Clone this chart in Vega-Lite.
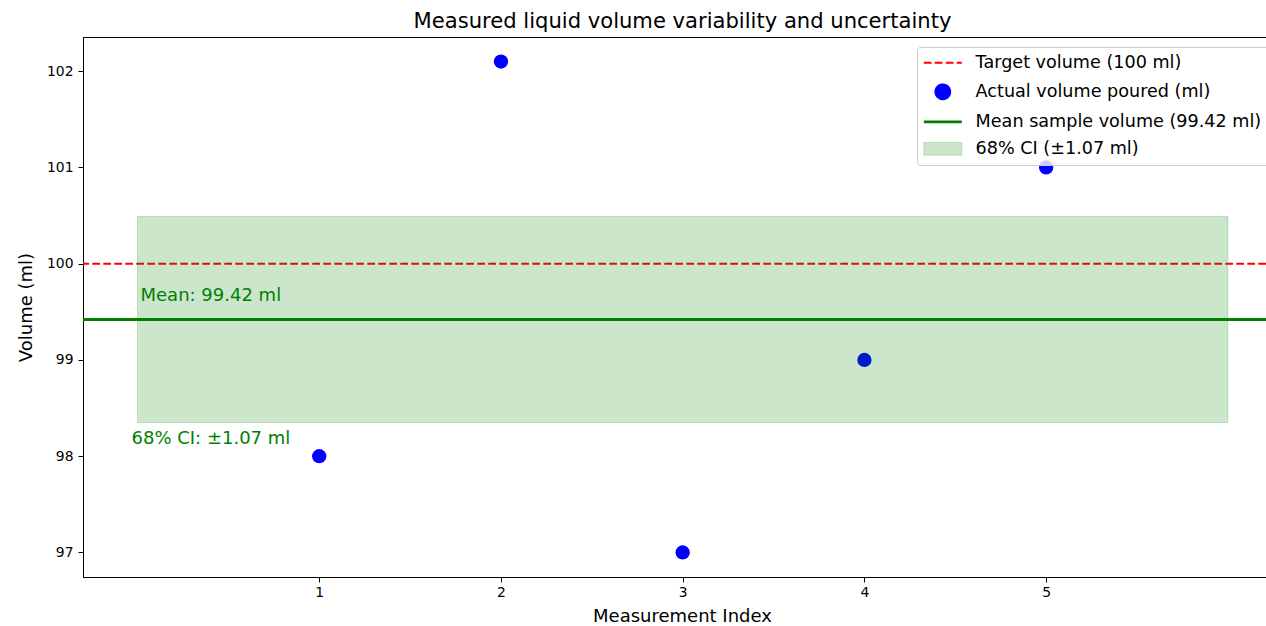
{
  "$schema": "https://vega.github.io/schema/vega-lite/v6.json",
  "autosize": {"type": "none"},
  "padding": {"left": 83, "top": 37, "right": 0, "bottom": 49},
  "width": 1183,
  "height": 540,
  "title": {"text": "Measured liquid volume variability and uncertainty", "font": "DejaVu Sans", "fontSize": 21.1, "fontWeight": "normal", "color": "#000", "anchor": "middle", "dx": 8, "offset": 5},
  "config": {
    "view": {"stroke": "#000", "strokeWidth": 1},
    "axis": {"labelFont": "DejaVu Sans", "titleFont": "DejaVu Sans", "labelFontSize": 13.9, "titleFontSize": 18, "titleFontWeight": "normal", "labelColor": "#000", "titleColor": "#000", "domainColor": "#000", "tickColor": "#000", "tickSize": 5, "grid": false, "domainWidth": 1, "tickWidth": 1, "format": "d"}
  },
  "datasets": {
    "points": [
      {"index": 1, "volume": 98},
      {"index": 2, "volume": 102.1},
      {"index": 3, "volume": 97},
      {"index": 4, "volume": 99},
      {"index": 5, "volume": 101}
    ],
    "stats": [
      {"target": 100, "mean": 99.42, "lo": 98.35, "hi": 100.49, "start": 0, "end": 6, "meanLabel": "Mean: 99.42 ml", "ciLabel": "68% CI: ±1.07 ml"}
    ]
  },
  "layer": [
    {
      "data": {"name": "stats"},
      "mark": {"type": "rule", "strokeDash": [7.7, 3.3], "strokeWidth": 2.1},
      "encoding": {
        "y": {"field": "target", "type": "quantitative", "scale": {"domain": [96.745, 102.355], "nice": false, "zero": false}, "axis": {"values": [97, 98, 99, 100, 101, 102], "format": "d", "title": "Volume (ml)", "labelPadding": 5, "titleX": -51.5, "titleBaseline": "alphabetic"}},
        "color": {
          "datum": "Target volume (100 ml)",
          "type": "nominal",
          "scale": {"domain": ["Target volume (100 ml)", "Actual volume poured (ml)", "Mean sample volume (99.42 ml)", "68% CI (±1.07 ml)"], "range": ["#ff0000", "#0000ff", "#008000", "#008000"]},
          "legend": {
            "orient": "none", "legendX": 834, "legendY": 10, "title": null,
            "labelFont": "DejaVu Sans", "labelFontSize": 17.6, "labelColor": "#000", "labelLimit": 0,
            "symbolSize": 1444, "symbolOffset": 10, "labelOffset": 24, "padding": 7, "rowPadding": 8,
            "fillColor": "rgba(255,255,255,0.8)", "strokeColor": "#cccccc", "cornerRadius": 3,
            "encode": {"symbols": {"update": {
              "shape": {"signal": "datum.value === 'Actual volume poured (ml)' ? 'circle' : datum.value === '68% CI (±1.07 ml)' ? 'M-1,-0.337H1V0.337H-1Z' : 'stroke'"},
              "size": {"signal": "datum.value === 'Actual volume poured (ml)' ? 215 : 1444"},
              "fillOpacity": {"signal": "datum.value === '68% CI (±1.07 ml)' ? 0.2 : 1"},
              "strokeOpacity": {"signal": "datum.value === '68% CI (±1.07 ml)' ? 0.2 : 1"},
              "strokeWidth": {"signal": "datum.value === '68% CI (±1.07 ml)' ? 1 : datum.value === 'Mean sample volume (99.42 ml)' ? 2.8 : 2.1"},
              "strokeDash": {"signal": "datum.value === 'Target volume (100 ml)' ? [7.7, 3.3] : [1, 0]"},
              "opacity": {"value": 1}
            }}}
          }
        }
      }
    },
    {
      "data": {"name": "points"},
      "mark": {"type": "circle", "size": 205, "opacity": 1},
      "encoding": {
        "x": {"field": "index", "type": "quantitative", "scale": {"domain": [-0.3, 6.21], "nice": false, "zero": false}, "axis": {"values": [1, 2, 3, 4, 5], "format": "d", "title": "Measurement Index", "labelPadding": 3, "titleX": 599, "titleY": 30}},
        "y": {"field": "volume", "type": "quantitative"},
        "color": {"datum": "Actual volume poured (ml)", "type": "nominal"}
      }
    },
    {
      "data": {"name": "stats"},
      "mark": {"type": "rule", "strokeWidth": 2.8},
      "encoding": {
        "y": {"field": "mean", "type": "quantitative"},
        "color": {"datum": "Mean sample volume (99.42 ml)", "type": "nominal"}
      }
    },
    {
      "data": {"name": "stats"},
      "mark": {"type": "rect", "fillOpacity": 0.2, "stroke": "#008000", "strokeOpacity": 0.2, "strokeWidth": 1},
      "encoding": {
        "x": {"field": "start", "type": "quantitative"},
        "x2": {"field": "end"},
        "y": {"field": "lo", "type": "quantitative"},
        "y2": {"field": "hi"},
        "color": {"datum": "68% CI (±1.07 ml)", "type": "nominal"}
      }
    },
    {
      "data": {"name": "stats"},
      "mark": {"type": "text", "align": "left", "baseline": "alphabetic", "dx": 3, "dy": -19, "font": "DejaVu Sans", "fontSize": 18, "color": "#008000"},
      "encoding": {
        "x": {"field": "start", "type": "quantitative"},
        "y": {"field": "mean", "type": "quantitative"},
        "text": {"field": "meanLabel"}
      }
    },
    {
      "data": {"name": "stats"},
      "mark": {"type": "text", "align": "left", "baseline": "alphabetic", "dx": -6, "dy": 21, "font": "DejaVu Sans", "fontSize": 18, "color": "#008000"},
      "encoding": {
        "x": {"field": "start", "type": "quantitative"},
        "y": {"field": "lo", "type": "quantitative"},
        "text": {"field": "ciLabel"}
      }
    }
  ]
}
